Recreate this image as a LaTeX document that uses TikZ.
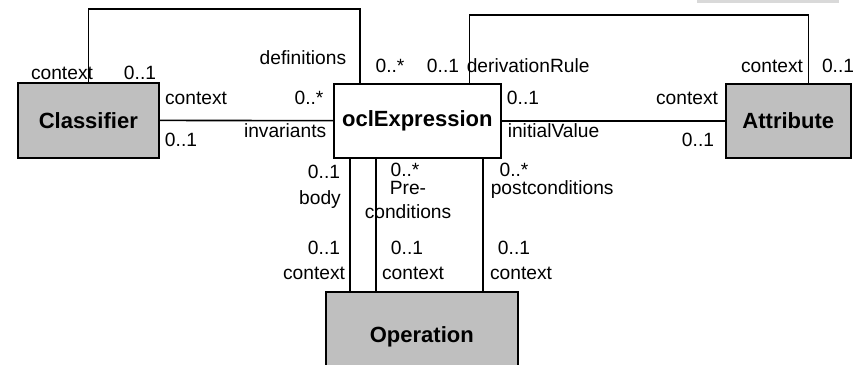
\documentclass[tikz,border=0pt]{standalone}
\usepackage{fontspec}
\setmainfont{Liberation Sans}
\usepackage{tikz}
\usetikzlibrary{calc}

\begin{document}
\begin{tikzpicture}[
    x = 0.5pt, y = -0.5pt,
    thick,
    every node/.style = {font = \fontsize{9.6}{10}\selectfont, inner sep = 0pt},
    metaclass/.style = {rectangle,
      draw,
      fill = black!25,
      anchor = north west,
      font = \fontsize{11}{12}\selectfont\bfseries},
    expression/.style = {metaclass, fill = white},
    role/.style = {anchor = base}
    ]

    \useasboundingbox (0, 0) rectangle (856, 364);
    \clip (0, 0) rectangle (856, 364);

    \fill [black!15] (697, -4) rectangle (839, 3);

    \node at (17, 82) [metaclass, name = cls, minimum width = 70.5pt, minimum height = 37.5pt] {Classifier};
    \node at (333, 83) [expression, name = ocl, minimum width = 83.5pt, minimum height = 37pt] {oclExpression};
    \node at (725, 83) [metaclass, name = att, minimum width = 62.5pt, minimum height = 37pt] {Attribute};
    \node at (325, 291) [metaclass, name = op, minimum width = 96pt, minimum height = 45pt] {Operation};

    \draw (cls) -- (ocl);
    \draw (ocl) -- (att);
    \draw (cls.north) -- ++(0, -73) -| ($(ocl.north west) + (27, 0)$);
    \draw ($(ocl.north east) + (-32, 0)$) -- ++(0, -68) -| ($(att.north) + (20, 0)$);
    \draw (ocl.south -| 350, 0) -- (op.north -| 350, 0);
    \draw (ocl.south -| 376, 0) -- (op.north -| 376, 0);
    \draw (ocl.south -| 483, 0) -- (op.north -| 483, 0);

    % definitions
    \node at (62, 79) [role, name = r1] {context};
    \node at (140, 79) [role, name = r2] {0..1};
    \node at (347, 64) [role, anchor = base east, name = r3] {definitions};
    \node at (390, 72) [role, name = r4] {0..*};
    % derivationRule
    \node at (443, 72) [role, name = r5] {0..1};
    \node at (466, 72) [role, anchor = base west, name = r6] {derivationRule};
    \node at (772, 72) [role, name = r7] {context};
    \node at (838, 72) [role, name = r8] {0..1};
    % invariants
    \node at (196, 104) [role, name = r9] {context};
    \node at (309, 104) [role, name = r10] {0..*};
    \node at (181, 146) [role, name = r11] {0..1};
    \node at (327, 137) [role, anchor = base east, name = r12] {invariants};
    % initialValue
    \node at (523, 104) [role, name = r13] {0..1};
    \node at (687, 104) [role, name = r14] {context};
    \node at (507, 137) [role, anchor = base west, name = r15] {initialValue};
    \node at (698, 146) [role, name = r16] {0..1};
    % body
    \node at (324, 178) [role, name = r17] {0..1};
    \node at (320, 204) [role, name = r18] {body};
    \node at (324, 254) [role, name = r19] {0..1};
    \node at (314, 279) [role, name = r20] {context};
    % preconditions
    \node at (405, 176) [role, name = r21] {0..*};
    \node at (408, 194) [role, name = r22] {Pre-};
    \node at (408, 218) [role, name = r23] {conditions};
    \node at (407, 254) [role, name = r24] {0..1};
    \node at (413, 279) [role, name = r25] {context};
    % postconditions
    \node at (514, 176) [role, name = r26] {0..*};
    \node at (490, 194) [role, anchor = base west, name = r27] {postconditions};
    \node at (514, 254) [role, name = r28] {0..1};
    \node at (521, 279) [role, name = r29] {context};

  \end{tikzpicture}
\end{document}
